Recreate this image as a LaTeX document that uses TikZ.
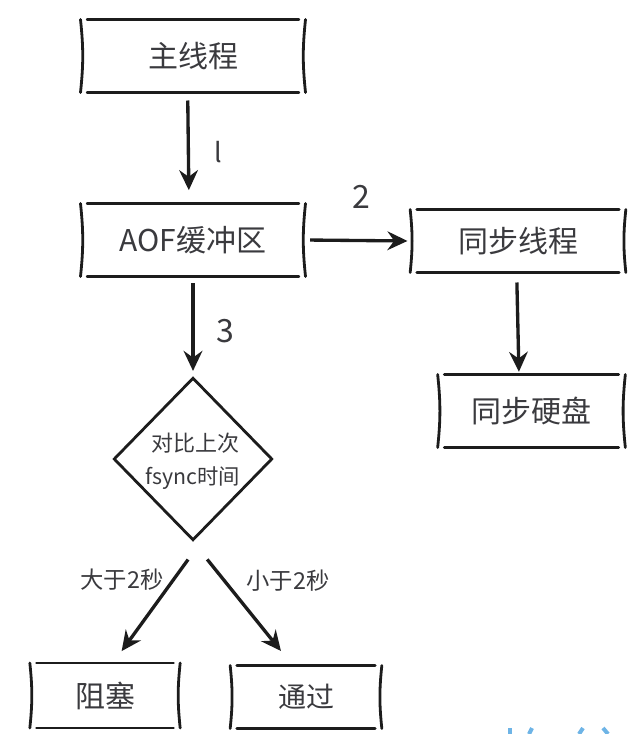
\documentclass[tikz,border=0pt]{standalone}
\usepackage{fontspec}
\setmainfont{Noto Sans CJK SC}
\usetikzlibrary{arrows.meta,shapes.geometric}
\definecolor{inkline}{RGB}{28,28,28}
\definecolor{inktext}{RGB}{58,58,62}
\definecolor{markblue}{RGB}{110,180,230}
\tikzset{every picture/.style={line width=0.75pt}}
\tikzset{
  sketchline/.style={draw=inkline,line width=2.1pt,line cap=round},
  sketchbox/.style={inner sep=0pt,text=inktext,font=\fontsize{22.5}{26}\selectfont,
    append after command={
      (\tikzlastnode.north west) edge[sketchline,bend right=6] (\tikzlastnode.south west)
      (\tikzlastnode.north east) edge[sketchline,bend left=6] (\tikzlastnode.south east)
      ([xshift=5pt]\tikzlastnode.north west) edge[sketchline] ([xshift=-5pt]\tikzlastnode.north east)
      ([xshift=5pt]\tikzlastnode.south west) edge[sketchline] ([xshift=-5pt]\tikzlastnode.south east)
    }},
  flowarrow/.style={draw=inkline,line width=2.5pt,-{Stealth[length=15pt,width=14pt,inset=5pt]}},
  steplabel/.style={inner sep=0.75pt,text=inktext,font=\fontsize{24}{28}\selectfont},
  edgelabel/.style={inner sep=0.75pt,text=inktext,font=\fontsize{17.5}{20}\selectfont},
}
\begin{document}
\begin{tikzpicture}[x=0.75pt,y=0.75pt,yscale=-1,xscale=1]
\useasboundingbox (0,0) rectangle (642,734);

% boxes
\node [sketchbox,minimum width=168pt,minimum height=54pt] (mainthread) at (193,56) {主线程};
\node [sketchbox,minimum width=168pt,minimum height=54pt] (aofbuffer) at (193,240) {AOF缓冲区};
\node [sketchbox,minimum width=161pt,minimum height=46.5pt] (syncthread) at (518,241) {同步线程};
\node [sketchbox,minimum width=140pt,minimum height=54pt] (syncdisk) at (531.5,411) {同步硬盘};
\node [diamond,draw=inkline,line width=2.1pt,aspect=1,inner sep=0pt,minimum width=119pt,minimum height=122pt] (compare) at (193,459) {};
\node [inner sep=0.75pt,text=inktext,font=\fontsize{16.5}{19}\selectfont] (comparetop) at (195,443) {对比上次};
\node [inner sep=0.75pt,text=inktext,font=\fontsize{16}{19}\selectfont] (comparebottom) at (193,478) {fsync时间};
\node [sketchbox,minimum width=112pt,minimum height=48pt] (blocked) at (105,695.5) {阻塞};
\node [sketchbox,minimum width=113pt,minimum height=46.5pt,font=\fontsize{21}{24}\selectfont] (passed) at (306,697) {通过};

% arrows
\draw [flowarrow,shorten <=6pt,shorten >=10pt] ([xshift=-4pt]mainthread.south) -- ([xshift=-3pt]aofbuffer.north);
\draw [flowarrow,shorten <=3.5pt,shorten >=2pt] (aofbuffer.east) -- (syncthread.west);
\draw [flowarrow,shorten <=5pt,shorten >=4pt] (aofbuffer.south) -- (compare.north);
\draw [flowarrow,shorten <=7.5pt,shorten >=2pt] ([xshift=-1pt]syncthread.south) -- ([xshift=-9.4pt]syncdisk.north);
\draw [flowarrow,shorten <=16.5pt,shorten >=11pt] ([xshift=6pt]compare.south) -- ([xshift=6pt]blocked.north);
\draw [flowarrow,shorten <=17pt,shorten >=14pt] (compare.south) -- ([xshift=-10pt]passed.north);

% labels
\node [steplabel,font=\fontsize{20}{24}\selectfont] (stepone) at (218,152) {l};
\node [steplabel] (steptwo) at (361,197) {2};
\node [steplabel] (stepthree) at (225,331) {3};
\node [edgelabel] (morethan) at (122,580) {大于2秒};
\node [edgelabel] (lessthan) at (288,581) {小于2秒};

% cut off marks at the lower edge
\draw [markblue,line width=3pt] (510,728) -- (510,734);
\draw [markblue,line width=3pt] (532,728) -- (529,734);
\draw [markblue,line width=3pt] (583,728) -- (579,734);
\draw [markblue,line width=3pt] (603,728) -- (608,734);

\end{tikzpicture}
\end{document}
